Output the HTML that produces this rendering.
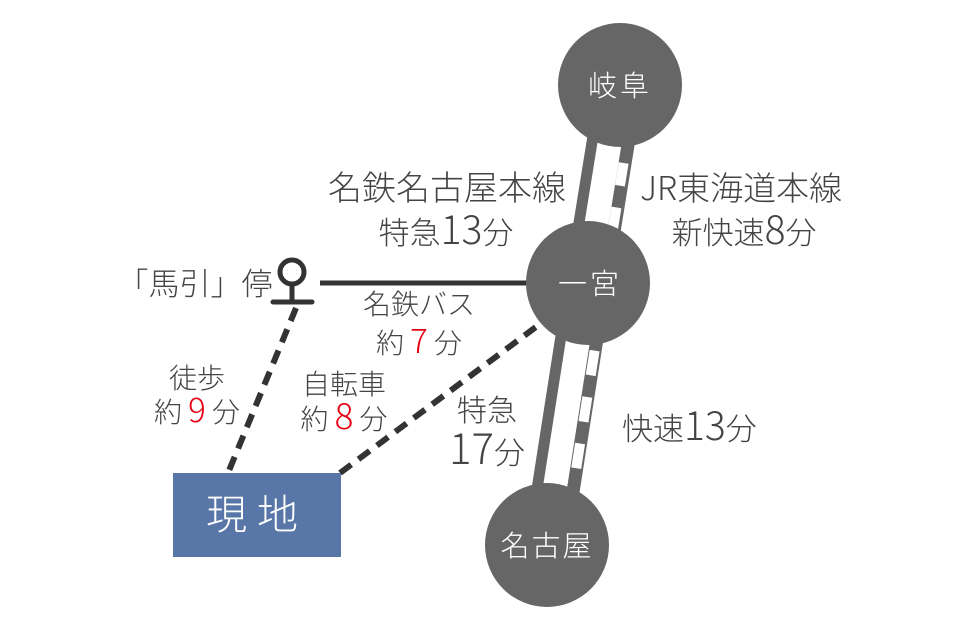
<!DOCTYPE html>
<html><head><meta charset="utf-8"><style>
html,body{margin:0;padding:0;background:#fff;}
svg{display:block;}
text{font-family:"Liberation Sans","Noto Sans CJK JP",sans-serif;fill:#444;font-weight:300;}
.n{font-family:"Noto Sans CJK JP","Liberation Sans",sans-serif;font-weight:300;}
.w{fill:#fff;}
.r{fill:#e60012;}
</style></head><body>
<svg width="954" height="630" viewBox="0 0 954 630" xmlns="http://www.w3.org/2000/svg">
<line x1="620" y1="85" x2="588" y2="283" stroke="#666" stroke-width="48"/>
<line x1="619" y1="84.8" x2="587" y2="282.8" stroke="#fff" stroke-width="24"/>
<line x1="623.6" y1="163" x2="612.3" y2="233" stroke="#fff" stroke-width="10" stroke-dasharray="23 22"/>
<line x1="588" y1="283" x2="547" y2="545" stroke="#666" stroke-width="48"/>
<line x1="587" y1="282.8" x2="546" y2="544.8" stroke="#fff" stroke-width="24"/>
<line x1="594.6" y1="350.6" x2="575.2" y2="474.6" stroke="#fff" stroke-width="10" stroke-dasharray="25 22"/>
<line x1="296" y1="308" x2="228" y2="473" stroke="#333" stroke-width="6" stroke-dasharray="14 9"/>
<line x1="340" y1="473" x2="548" y2="318" stroke="#333" stroke-width="6" stroke-dasharray="14 9"/>
<line x1="320" y1="283" x2="540" y2="283" stroke="#333" stroke-width="5"/>
<circle cx="292" cy="272" r="12" fill="none" stroke="#333" stroke-width="5"/>
<line x1="292" y1="284" x2="292" y2="302" stroke="#333" stroke-width="5"/>
<line x1="273" y1="302" x2="312" y2="302" stroke="#333" stroke-width="5" stroke-linecap="round"/>
<circle cx="620" cy="85" r="62" fill="#666"/>
<circle cx="588" cy="283" r="62" fill="#666"/>
<circle cx="547" cy="545" r="62" fill="#666"/>
<text class="w" x="620" y="96" font-size="29" text-anchor="middle" letter-spacing="3">岐阜</text>
<text class="w" x="590" y="294" font-size="29" text-anchor="middle" letter-spacing="3">一宮</text>
<text class="w" x="547" y="556" font-size="29" text-anchor="middle" letter-spacing="2">名古屋</text>
<rect x="173" y="473" width="168" height="84" fill="#5877a8"/>
<text class="w" x="257" y="529" font-size="41" text-anchor="middle" letter-spacing="10">現地</text>
<text x="566" y="200" font-size="34" text-anchor="end">名鉄名古屋本線</text>
<text class="n" x="446" y="244" font-size="31" text-anchor="middle">特急<tspan font-size="39">13</tspan>分</text>
<text class="n" x="640" y="200" font-size="33">JR東海道本線</text>
<text class="n" x="744" y="244" font-size="31" text-anchor="middle">新快速<tspan font-size="39">8</tspan>分</text>
<text x="195" y="295" font-size="31" text-anchor="middle">「馬引」停</text>
<text x="419" y="314" font-size="28" text-anchor="middle">名鉄バス</text>
<text class="n" x="419" y="353" font-size="28" text-anchor="middle">約 <tspan class="r" font-size="33">7</tspan> 分</text>
<text x="197" y="388" font-size="28" text-anchor="middle">徒歩</text>
<text class="n" x="197" y="422" font-size="28" text-anchor="middle">約 <tspan class="r" font-size="33">9</tspan> 分</text>
<text x="344" y="394" font-size="28" text-anchor="middle">自転車</text>
<text class="n" x="344" y="429" font-size="28" text-anchor="middle">約 <tspan class="r" font-size="35">8</tspan> 分</text>
<text x="487" y="421" font-size="30" text-anchor="middle">特急</text>
<text class="n" x="487" y="464" font-size="31" text-anchor="middle"><tspan font-size="42">17</tspan>分</text>
<text class="n" x="622" y="440" font-size="31">快速<tspan font-size="39">13</tspan>分</text>
</svg>
</body></html>
